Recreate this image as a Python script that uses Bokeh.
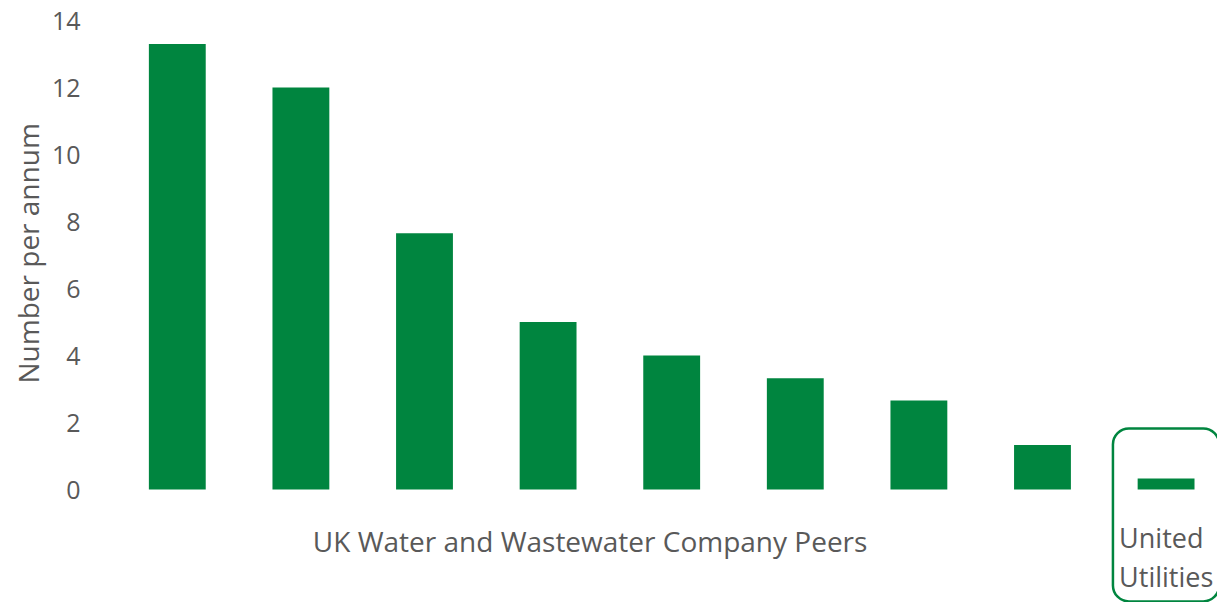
from bokeh.plotting import figure
from bokeh.models import FixedTicker, BoxAnnotation, Range1d, Title
from bokeh.core.properties import value
from bokeh.embed import file_html
from bokeh.resources import INLINE

companies = ["Peer 1", "Peer 2", "Peer 3", "Peer 4", "Peer 5", "Peer 6", "Peer 7", "Peer 8", "United Utilities"]
values = [13.3, 12.0, 7.65, 5.0, 4.0, 3.32, 2.66, 1.33, 0.33]
y_ticks = [0, 2, 4, 6, 8, 10, 12, 14]
group_label = "UK Water and Wastewater Company Peers"
uu_label_lines = ["United", "Utilities"]
y_title = "Number per annum"

GREEN = "#00853F"
GREY = "#595959"
FONT = "Open Sans"

xs = [i + 0.5 for i in range(len(companies))]

p = figure(width=1217, height=602, output_backend="svg", toolbar_location=None,
           x_range=Range1d(0, 8.916), y_range=Range1d(-3.373, 14),
           min_border_left=115, min_border_right=0, min_border_top=20, min_border_bottom=0)

p.vbar(x=xs, top=values, bottom=0, width=0.46, fill_color=GREEN, line_color=None)

p.xaxis.visible = False
p.xgrid.grid_line_color = None
p.ygrid.grid_line_color = None
p.outline_line_color = None

ya = p.yaxis[0]
ya.ticker = FixedTicker(ticks=y_ticks)
ya.axis_line_color = None
ya.major_tick_line_color = None
ya.minor_tick_line_color = None
ya.major_label_text_font = FONT
ya.major_label_text_font_size = "25px"
ya.major_label_text_color = GREY
ya.major_label_standoff = 29

# y axis title, placed along the 0..14 span
p.add_layout(Title(text=y_title, align="left", offset=219, standoff=4,
                   text_font=FONT, text_font_size="28px", text_font_style="normal",
                   text_color=GREY), "left")

# group label under peers
p.text(x=[(xs[0] + xs[7]) / 2 - 0.16], y=[-1.55], text=[group_label],
       text_font=value(FONT), text_font_size="28px", text_color=GREY,
       text_align="center", text_baseline="middle")

# United Utilities label
p.text(x=[xs[8] - 0.38] * 2, y=[-1.43, -2.6], text=uu_label_lines,
       text_font=value(FONT), text_font_size="27px", text_color=GREY,
       text_align="left", text_baseline="middle")

box = BoxAnnotation(left=xs[8] - 0.43, right=xs[8] + 0.43, bottom=-3.34, top=1.82,
                    fill_color=None, line_color=GREEN, line_alpha=1.0, line_width=2.5,
                    border_radius=16)
p.add_layout(box)

open("out.html", "w").write(file_html(p, INLINE))
